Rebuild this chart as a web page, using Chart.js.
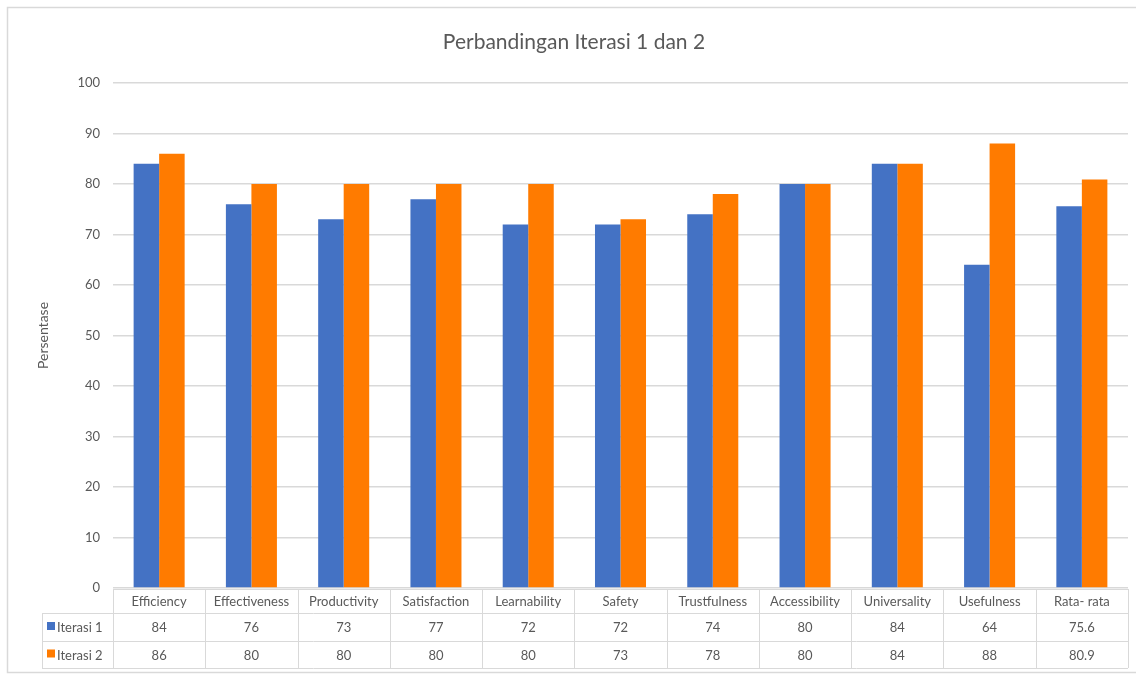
<!DOCTYPE html>
<html>
<head>
<meta charset="utf-8">
<script src="https://cdn.jsdelivr.net/npm/chart.js@4.4.1/dist/chart.umd.min.js"></script>
<style>
  html, body { margin: 0; padding: 0; background: #fff; }
  canvas { display: block; }
</style>
</head>
<body>
<canvas id="chart" width="1136" height="675"></canvas>
<script>
// data
const categories = ['Efficiency', 'Effectiveness', 'Productivity', 'Satisfaction', 'Learnability',
    'Safety', 'Trustfulness', 'Accessibility', 'Universality', 'Usefulness', 'Rata- rata'];
const iterasi1 = [84, 76, 73, 77, 72, 72, 74, 80, 84, 64, 75.6];
const iterasi2 = [86, 80, 80, 80, 80, 73, 78, 80, 84, 88, 80.9];
const seriesNames = ['Iterasi 1', 'Iterasi 2'];
const seriesColors = ['#4472C4', '#FF7B00'];

const FONT = 'Lato, "Open Sans", sans-serif';
const TEXT = '#595959';
const LINE = '#d9d9d9';

// title + outer frame + data table under the plot
const tablePlugin = {
    id: 'tablePlugin',
    afterDraw(chart) {
        const ctx = chart.ctx;
        const x = chart.scales.x;
        const area = chart.chartArea;
        const n = categories.length;
        const colW = (area.right - area.left) / n;

        const headTop = area.bottom + 1;
        const row1 = 613, row2 = 641, bottom = 668;
        const labelLeft = 42;

        ctx.save();

        // outer frame
        ctx.strokeStyle = LINE;
        ctx.lineWidth = 1.5;
        ctx.strokeRect(7.5, 7.5, chart.width - 2, 665);

        // title
        ctx.fillStyle = TEXT;
        ctx.font = '21px ' + FONT;
        ctx.textAlign = 'center';
        ctx.textBaseline = 'middle';
        ctx.fillText('Perbandingan Iterasi 1 dan 2', 574, 42);

        // table lines
        ctx.lineWidth = 1;
        ctx.strokeStyle = LINE;
        ctx.beginPath();
        ctx.moveTo(area.left, headTop + 0.5); ctx.lineTo(area.right, headTop + 0.5);
        [row1, row2, bottom].forEach(y => {
            ctx.moveTo(labelLeft, y + 0.5); ctx.lineTo(area.right, y + 0.5);
        });
        ctx.moveTo(labelLeft + 0.5, row1); ctx.lineTo(labelLeft + 0.5, bottom);
        for (let i = 0; i <= n; i++) {
            const cx = Math.round(area.left + i * colW) + 0.5;
            ctx.moveTo(cx, headTop); ctx.lineTo(cx, bottom);
        }
        ctx.stroke();

        // header + values
        ctx.font = '13px ' + FONT;
        ctx.fillStyle = TEXT;
        const rows = [iterasi1, iterasi2];
        categories.forEach((c, i) => {
            const cx = x.getPixelForValue(i);
            ctx.fillText(c, cx, (headTop + row1) / 2 + 1);
            ctx.fillText(String(rows[0][i]), cx, (row1 + row2) / 2 + 1);
            ctx.fillText(String(rows[1][i]), cx, (row2 + bottom) / 2 + 1);
        });

        // legend keys
        ctx.textAlign = 'left';
        [[row1, row2], [row2, bottom]].forEach((r, k) => {
            const cy = (r[0] + r[1]) / 2;
            ctx.fillStyle = seriesColors[k];
            ctx.fillRect(47, cy - 5, 8, 8);
            ctx.fillStyle = TEXT;
            ctx.fillText(seriesNames[k], 57, cy + 1);
        });

        ctx.restore();
    }
};

new Chart(document.getElementById('chart'), {
    type: 'bar',
    data: {
        labels: categories,
        datasets: [
            { label: seriesNames[0], data: iterasi1, backgroundColor: seriesColors[0] },
            { label: seriesNames[1], data: iterasi2, backgroundColor: seriesColors[1] }
        ]
    },
    options: {
        responsive: false,
        animation: false,
        categoryPercentage: 0.553,
        barPercentage: 1.0,
        layout: { padding: { left: 0, right: 8, top: 83, bottom: 87 } },
        plugins: {
            legend: { display: false },
            title: { display: false },
            tooltip: { enabled: false }
        },
        scales: {
            x: { display: false },
            y: {
                min: 0,
                max: 100,
                ticks: {
                    stepSize: 10,
                    padding: 13,
                    color: TEXT,
                    font: { family: FONT, size: 13 }
                },
                grid: { color: LINE, lineWidth: 1.5, drawTicks: false },
                border: { display: false },
                title: {
                    display: true,
                    text: 'Persentase',
                    color: TEXT,
                    font: { family: FONT, size: 14 },
                    padding: { top: 35, bottom: 0 }
                },
                afterFit(scale) { scale.width = 113; }
            }
        }
    },
    plugins: [tablePlugin]
});
</script>
</body>
</html>
